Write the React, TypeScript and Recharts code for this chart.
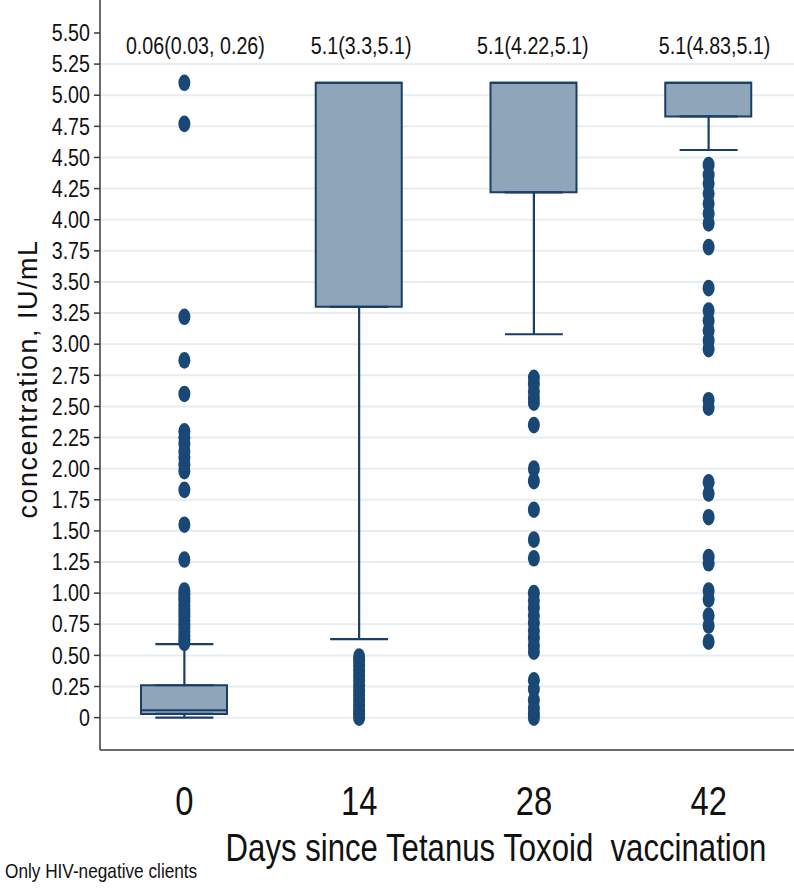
import React from 'react';
import { ComposedChart, Bar, Scatter, XAxis, YAxis, CartesianGrid, ErrorBar } from 'recharts';

// ---------- data ----------
const days = ['0', '14', '28', '42'];
const q1 = [0.03, 3.3, 4.22, 4.83];
const median = [0.06, 5.1, 5.1, 5.1];
const q3 = [0.26, 5.1, 5.1, 5.1];
const whiskerLow = [0, 0.63, 3.08, 4.56];
const whiskerHigh = [0.59, 5.1, 5.1, 5.1];
const summaryLabels = ['0.06(0.03, 0.26)', '5.1(3.3,5.1)', '5.1(4.22,5.1)', '5.1(4.83,5.1)'];

const outliersDay0 = [5.1, 4.77, 3.22, 2.87, 2.6, 2.3, 2.25, 2.2, 2.14, 2.09, 2.03, 1.98, 1.83, 1.55, 1.27,
  1.02, 0.99, 0.96, 0.93, 0.9, 0.87, 0.84, 0.81, 0.78, 0.75, 0.72, 0.69, 0.66, 0.63, 0.6];
const outliersDay14 = [0.49, 0.46, 0.42, 0.38, 0.34, 0.3, 0.26, 0.22, 0.18, 0.14, 0.1, 0.06, 0.03, 0];
const outliersDay28 = [2.73, 2.68, 2.62, 2.57, 2.53, 2.35, 2.0, 1.9, 1.67, 1.43, 1.28, 1.0, 0.94, 0.88, 0.82,
  0.76, 0.7, 0.64, 0.58, 0.53, 0.3, 0.23, 0.14, 0.08, 0.03, 0];
const outliersDay42 = [4.44, 4.36, 4.29, 4.21, 4.13, 4.05, 3.97, 3.78, 3.45, 3.27, 3.19, 3.11, 3.03, 2.96,
  2.55, 2.49, 1.89, 1.8, 1.61, 1.29, 1.24, 1.02, 0.95, 0.82, 0.74, 0.61];
const outlierGroups = [outliersDay0, outliersDay14, outliersDay28, outliersDay42];

const yTicks = [0, 0.25, 0.5, 0.75, 1, 1.25, 1.5, 1.75, 2, 2.25, 2.5, 2.75, 3, 3.25, 3.5, 3.75, 4, 4.25,
  4.5, 4.75, 5, 5.25, 5.5];
const gridValues = yTicks.filter((v) => v <= 5.25);
const labelLevel = 5.4;

// ---------- styles ----------
const FONT = "'Liberation Sans', Arial, Helvetica, sans-serif";
const SQUEEZE = 0.82; // emulate a narrow Helvetica
const BOX_FILL = '#8fa5b9';
const BOX_STROKE = '#1b3e68';
const DOT = '#1a4876';
const AXIS = '#3a3a3a';
const GRID = '#e7eef1';
const labelNudge = [11, 2, -1, 6];

// ---------- derived tables ----------
const boxData = days.map((d, i) => ({ day: d, box: [q1[i], q3[i]] }));
const medianData = days.map((d, i) => ({ day: d, y: median[i] }));
const lowerWhiskerData = days.map((d, i) => ({ day: d, y: q1[i], err: [q1[i] - whiskerLow[i], 0] }));
const upperWhiskerData = days
  .map((d, i) => ({ day: d, y: q3[i], err: [0, whiskerHigh[i] - q3[i]] }))
  .filter((r) => r.err[1] > 0);
const outlierData = days.flatMap((d, i) => outlierGroups[i].map((v) => ({ day: d, y: v })));
const labelData = days.map((d, i) => ({ day: d, y: labelLevel, text: summaryLabels[i], idx: i }));

const NarrowText = ({ x, y, size, anchor = 'middle', baseline, children }: any) => (
  <text
    transform={`translate(${x},${y}) scale(${SQUEEZE},1)`}
    x={0}
    y={0}
    textAnchor={anchor}
    dominantBaseline={baseline}
    fontFamily={FONT}
    fontSize={size}
    fill="#111"
  >
    {children}
  </text>
);

const Empty = () => <g />;

const MedianShape = (p: any) => (
  <line x1={p.cx - 43} x2={p.cx + 43} y1={p.cy} y2={p.cy} stroke={BOX_STROKE} strokeWidth={2} />
);

const DotShape = (p: any) => <ellipse cx={p.cx} cy={p.cy} rx={6} ry={8.3} fill={DOT} />;

const LabelShape = (p: any) => (
  <NarrowText x={p.cx + labelNudge[p.payload.idx]} y={p.cy} size={24} baseline="central">
    {p.payload.text}
  </NarrowText>
);

const XTick = (p: any) => (
  <NarrowText x={p.x} y={815} size={40}>
    {p.payload.value}
  </NarrowText>
);

const YTick = (p: any) => (
  <NarrowText x={p.x} y={p.y} size={24} anchor="end" baseline="central">
    {p.payload.value === 0 ? '0' : Number(p.payload.value).toFixed(2)}
  </NarrowText>
);

const YTitle = () => (
  <text
    x={37}
    y={379}
    transform="rotate(-90 37 379)"
    textAnchor="middle"
    fontFamily={FONT}
    fontSize={27}
    letterSpacing={1.5}
    fill="#111"
  >
    concentration, IU/mL
  </text>
);

const XTitle = () => (
  <g>
    <NarrowText x={496} y={861} size={38}>
      Days since Tetanus Toxoid{'\u00a0'} vaccination
    </NarrowText>
    <NarrowText x={5} y={878} size={21} anchor="start">
      Only HIV-negative clients
    </NarrowText>
  </g>
);

export default function App() {
  return (
    <div style={{ position: 'absolute', left: 0, top: 0, width: 794, height: 888, overflow: 'hidden', background: '#fff' }}>
      <ComposedChart width={796} height={888} data={boxData} margin={{ top: 0, right: 0, bottom: 0, left: 0 }}>
        <CartesianGrid vertical={false} horizontalValues={gridValues} stroke={GRID} strokeWidth={2} />
        <XAxis
          dataKey="day"
          type="category"
          allowDuplicatedCategory={false}
          height={138}
          tickLine={false}
          axisLine={{ stroke: AXIS, strokeWidth: 1.5 }}
          tick={<XTick />}
          interval={0}
          padding={{ left: -3, right: 0 }}
          label={{ content: () => <XTitle /> }}
        />
        <YAxis
          type="number"
          width={100}
          domain={[-0.26, 5.765]}
          allowDataOverflow
          ticks={yTicks}
          interval={0}
          tickSize={6}
          tickMargin={4}
          tickLine={{ stroke: AXIS, strokeWidth: 1.5 }}
          axisLine={{ stroke: AXIS, strokeWidth: 1.5 }}
          tick={<YTick />}
          label={{ content: () => <YTitle /> }}
        />
        <Bar dataKey="box" barSize={86} fill={BOX_FILL} stroke={BOX_STROKE} strokeWidth={2} isAnimationActive={false} />
        <Scatter data={lowerWhiskerData} dataKey="y" shape={<Empty />} isAnimationActive={false}>
          <ErrorBar dataKey="err" direction="y" width={29} stroke={BOX_STROKE} strokeWidth={2.2} isAnimationActive={false} />
        </Scatter>
        <Scatter data={upperWhiskerData} dataKey="y" shape={<Empty />} isAnimationActive={false}>
          <ErrorBar dataKey="err" direction="y" width={29} stroke={BOX_STROKE} strokeWidth={2.2} isAnimationActive={false} />
        </Scatter>
        <Scatter data={medianData} dataKey="y" shape={MedianShape} isAnimationActive={false} />
        <Scatter data={outlierData} dataKey="y" shape={DotShape} isAnimationActive={false} />
        <Scatter data={labelData} dataKey="y" shape={LabelShape} isAnimationActive={false} />
      </ComposedChart>
    </div>
  );
}
